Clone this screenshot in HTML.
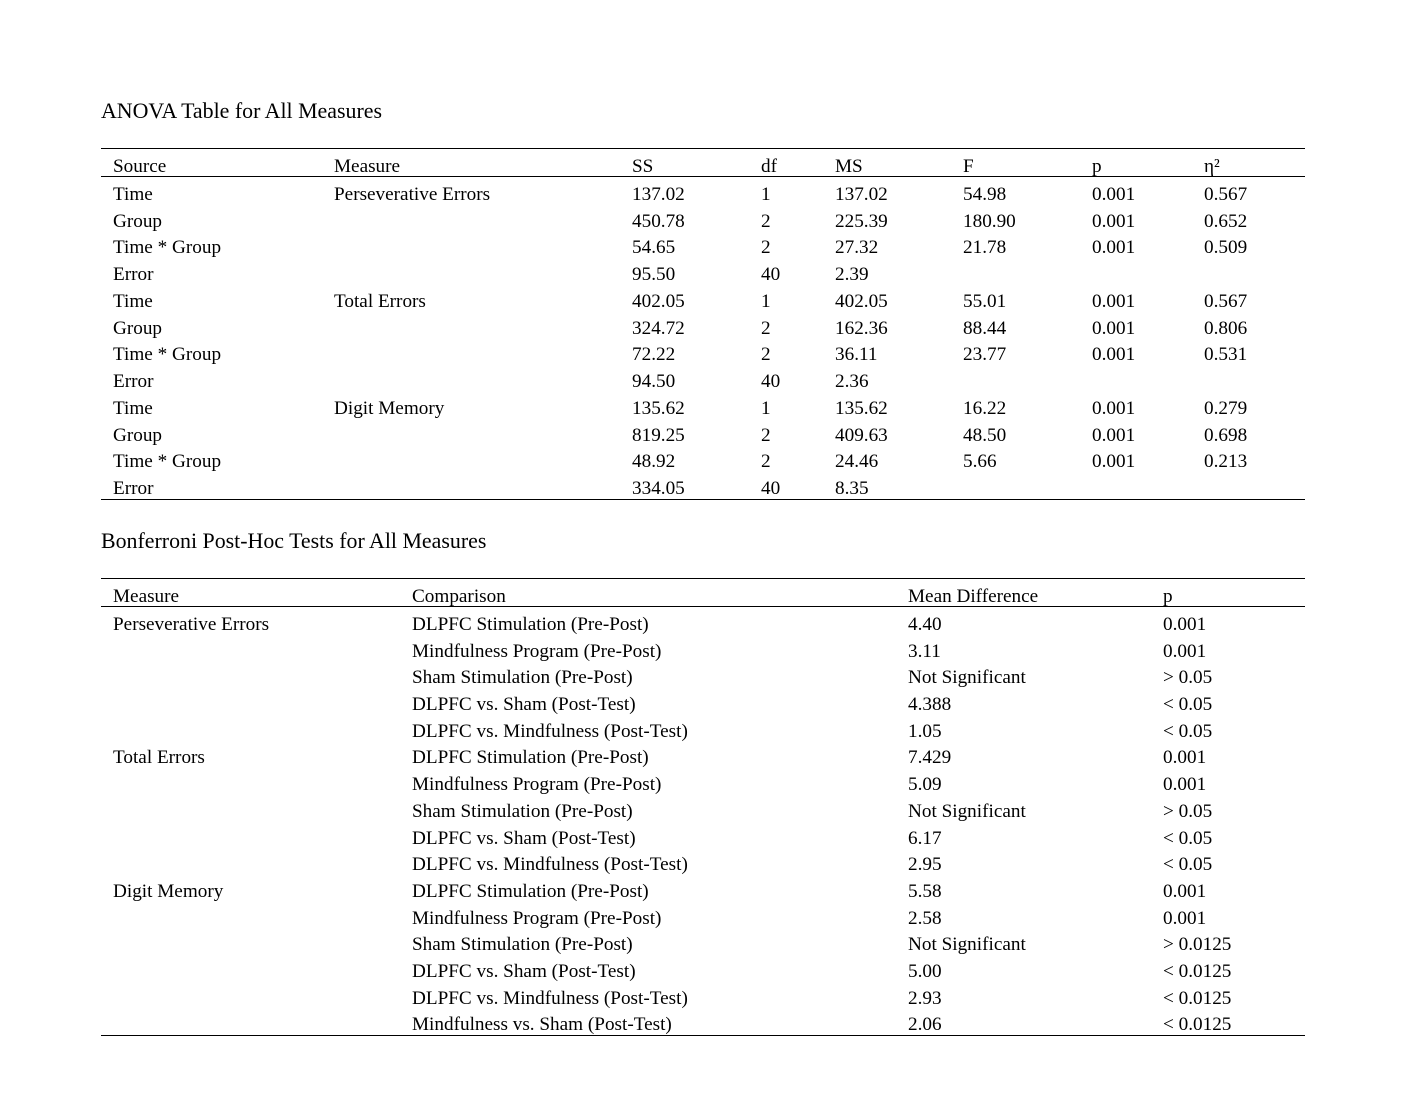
<!DOCTYPE html>
<html>
<head>
<meta charset="utf-8">
<style>
  html, body { margin:0; padding:0; background:#fff; }
  body { width:1409px; height:1106px; position:relative; overflow:hidden;
         font-family:"Liberation Serif","Times New Roman",serif; color:#000; }
  .title { position:absolute; left:101px; font-size:21.9px; line-height:30px; height:30px; white-space:nowrap; }
  .row { position:absolute; left:0; width:1409px; height:26.7px; font-size:19.2px; line-height:26.7px; white-space:nowrap; margin-top:1.7px; }
  .row span { position:absolute; top:0; }
  .line { position:absolute; left:101px; width:1204px; height:1px; background:#000; }
  /* ANOVA columns */
  .a1{left:113px}.a2{left:334px}.a3{left:632px}.a4{left:761px}.a5{left:835px}.a6{left:963px}.a7{left:1092px}.a8{left:1204px}
  /* Bonferroni columns */
  .b1{left:113px}.b2{left:412px}.b3{left:908px}.b4{left:1163px}
</style>
</head>
<body>

<div class="title" style="top:95.5px">ANOVA Table for All Measures</div>
<div class="line" style="top:148px"></div>
<div class="row" style="top:152.3px"><span class="a1">Source</span><span class="a2">Measure</span><span class="a3">SS</span><span class="a4">df</span><span class="a5">MS</span><span class="a6">F</span><span class="a7">p</span><span class="a8">η²</span></div>
<div class="line" style="top:176px"></div>

<div class="row" style="top:180.3px"><span class="a1">Time</span><span class="a2">Perseverative Errors</span><span class="a3">137.02</span><span class="a4">1</span><span class="a5">137.02</span><span class="a6">54.98</span><span class="a7">0.001</span><span class="a8">0.567</span></div>
<div class="row" style="top:207.0px"><span class="a1">Group</span><span class="a3">450.78</span><span class="a4">2</span><span class="a5">225.39</span><span class="a6">180.90</span><span class="a7">0.001</span><span class="a8">0.652</span></div>
<div class="row" style="top:233.8px"><span class="a1">Time * Group</span><span class="a3">54.65</span><span class="a4">2</span><span class="a5">27.32</span><span class="a6">21.78</span><span class="a7">0.001</span><span class="a8">0.509</span></div>
<div class="row" style="top:260.5px"><span class="a1">Error</span><span class="a3">95.50</span><span class="a4">40</span><span class="a5">2.39</span></div>
<div class="row" style="top:287.2px"><span class="a1">Time</span><span class="a2">Total Errors</span><span class="a3">402.05</span><span class="a4">1</span><span class="a5">402.05</span><span class="a6">55.01</span><span class="a7">0.001</span><span class="a8">0.567</span></div>
<div class="row" style="top:314.0px"><span class="a1">Group</span><span class="a3">324.72</span><span class="a4">2</span><span class="a5">162.36</span><span class="a6">88.44</span><span class="a7">0.001</span><span class="a8">0.806</span></div>
<div class="row" style="top:340.7px"><span class="a1">Time * Group</span><span class="a3">72.22</span><span class="a4">2</span><span class="a5">36.11</span><span class="a6">23.77</span><span class="a7">0.001</span><span class="a8">0.531</span></div>
<div class="row" style="top:367.4px"><span class="a1">Error</span><span class="a3">94.50</span><span class="a4">40</span><span class="a5">2.36</span></div>
<div class="row" style="top:394.1px"><span class="a1">Time</span><span class="a2">Digit Memory</span><span class="a3">135.62</span><span class="a4">1</span><span class="a5">135.62</span><span class="a6">16.22</span><span class="a7">0.001</span><span class="a8">0.279</span></div>
<div class="row" style="top:420.9px"><span class="a1">Group</span><span class="a3">819.25</span><span class="a4">2</span><span class="a5">409.63</span><span class="a6">48.50</span><span class="a7">0.001</span><span class="a8">0.698</span></div>
<div class="row" style="top:447.6px"><span class="a1">Time * Group</span><span class="a3">48.92</span><span class="a4">2</span><span class="a5">24.46</span><span class="a6">5.66</span><span class="a7">0.001</span><span class="a8">0.213</span></div>
<div class="row" style="top:474.3px"><span class="a1">Error</span><span class="a3">334.05</span><span class="a4">40</span><span class="a5">8.35</span></div>
<div class="line" style="top:498.5px"></div>

<div class="title" style="top:525.5px">Bonferroni Post-Hoc Tests for All Measures</div>
<div class="line" style="top:578px"></div>
<div class="row" style="top:582.3px"><span class="b1">Measure</span><span class="b2">Comparison</span><span class="b3">Mean Difference</span><span class="b4">p</span></div>
<div class="line" style="top:606px"></div>

<div class="row" style="top:610.3px"><span class="b1">Perseverative Errors</span><span class="b2">DLPFC Stimulation (Pre-Post)</span><span class="b3">4.40</span><span class="b4">0.001</span></div>
<div class="row" style="top:637.0px"><span class="b2">Mindfulness Program (Pre-Post)</span><span class="b3">3.11</span><span class="b4">0.001</span></div>
<div class="row" style="top:663.7px"><span class="b2">Sham Stimulation (Pre-Post)</span><span class="b3">Not Significant</span><span class="b4">&gt; 0.05</span></div>
<div class="row" style="top:690.4px"><span class="b2">DLPFC vs. Sham (Post-Test)</span><span class="b3">4.388</span><span class="b4">&lt; 0.05</span></div>
<div class="row" style="top:717.1px"><span class="b2">DLPFC vs. Mindfulness (Post-Test)</span><span class="b3">1.05</span><span class="b4">&lt; 0.05</span></div>
<div class="row" style="top:743.8px"><span class="b1">Total Errors</span><span class="b2">DLPFC Stimulation (Pre-Post)</span><span class="b3">7.429</span><span class="b4">0.001</span></div>
<div class="row" style="top:770.5px"><span class="b2">Mindfulness Program (Pre-Post)</span><span class="b3">5.09</span><span class="b4">0.001</span></div>
<div class="row" style="top:797.2px"><span class="b2">Sham Stimulation (Pre-Post)</span><span class="b3">Not Significant</span><span class="b4">&gt; 0.05</span></div>
<div class="row" style="top:823.9px"><span class="b2">DLPFC vs. Sham (Post-Test)</span><span class="b3">6.17</span><span class="b4">&lt; 0.05</span></div>
<div class="row" style="top:850.6px"><span class="b2">DLPFC vs. Mindfulness (Post-Test)</span><span class="b3">2.95</span><span class="b4">&lt; 0.05</span></div>
<div class="row" style="top:877.3px"><span class="b1">Digit Memory</span><span class="b2">DLPFC Stimulation (Pre-Post)</span><span class="b3">5.58</span><span class="b4">0.001</span></div>
<div class="row" style="top:904.0px"><span class="b2">Mindfulness Program (Pre-Post)</span><span class="b3">2.58</span><span class="b4">0.001</span></div>
<div class="row" style="top:930.7px"><span class="b2">Sham Stimulation (Pre-Post)</span><span class="b3">Not Significant</span><span class="b4">&gt; 0.0125</span></div>
<div class="row" style="top:957.4px"><span class="b2">DLPFC vs. Sham (Post-Test)</span><span class="b3">5.00</span><span class="b4">&lt; 0.0125</span></div>
<div class="row" style="top:984.1px"><span class="b2">DLPFC vs. Mindfulness (Post-Test)</span><span class="b3">2.93</span><span class="b4">&lt; 0.0125</span></div>
<div class="row" style="top:1010.8px"><span class="b2">Mindfulness vs. Sham (Post-Test)</span><span class="b3">2.06</span><span class="b4">&lt; 0.0125</span></div>
<div class="line" style="top:1035px"></div>

</body>
</html>
